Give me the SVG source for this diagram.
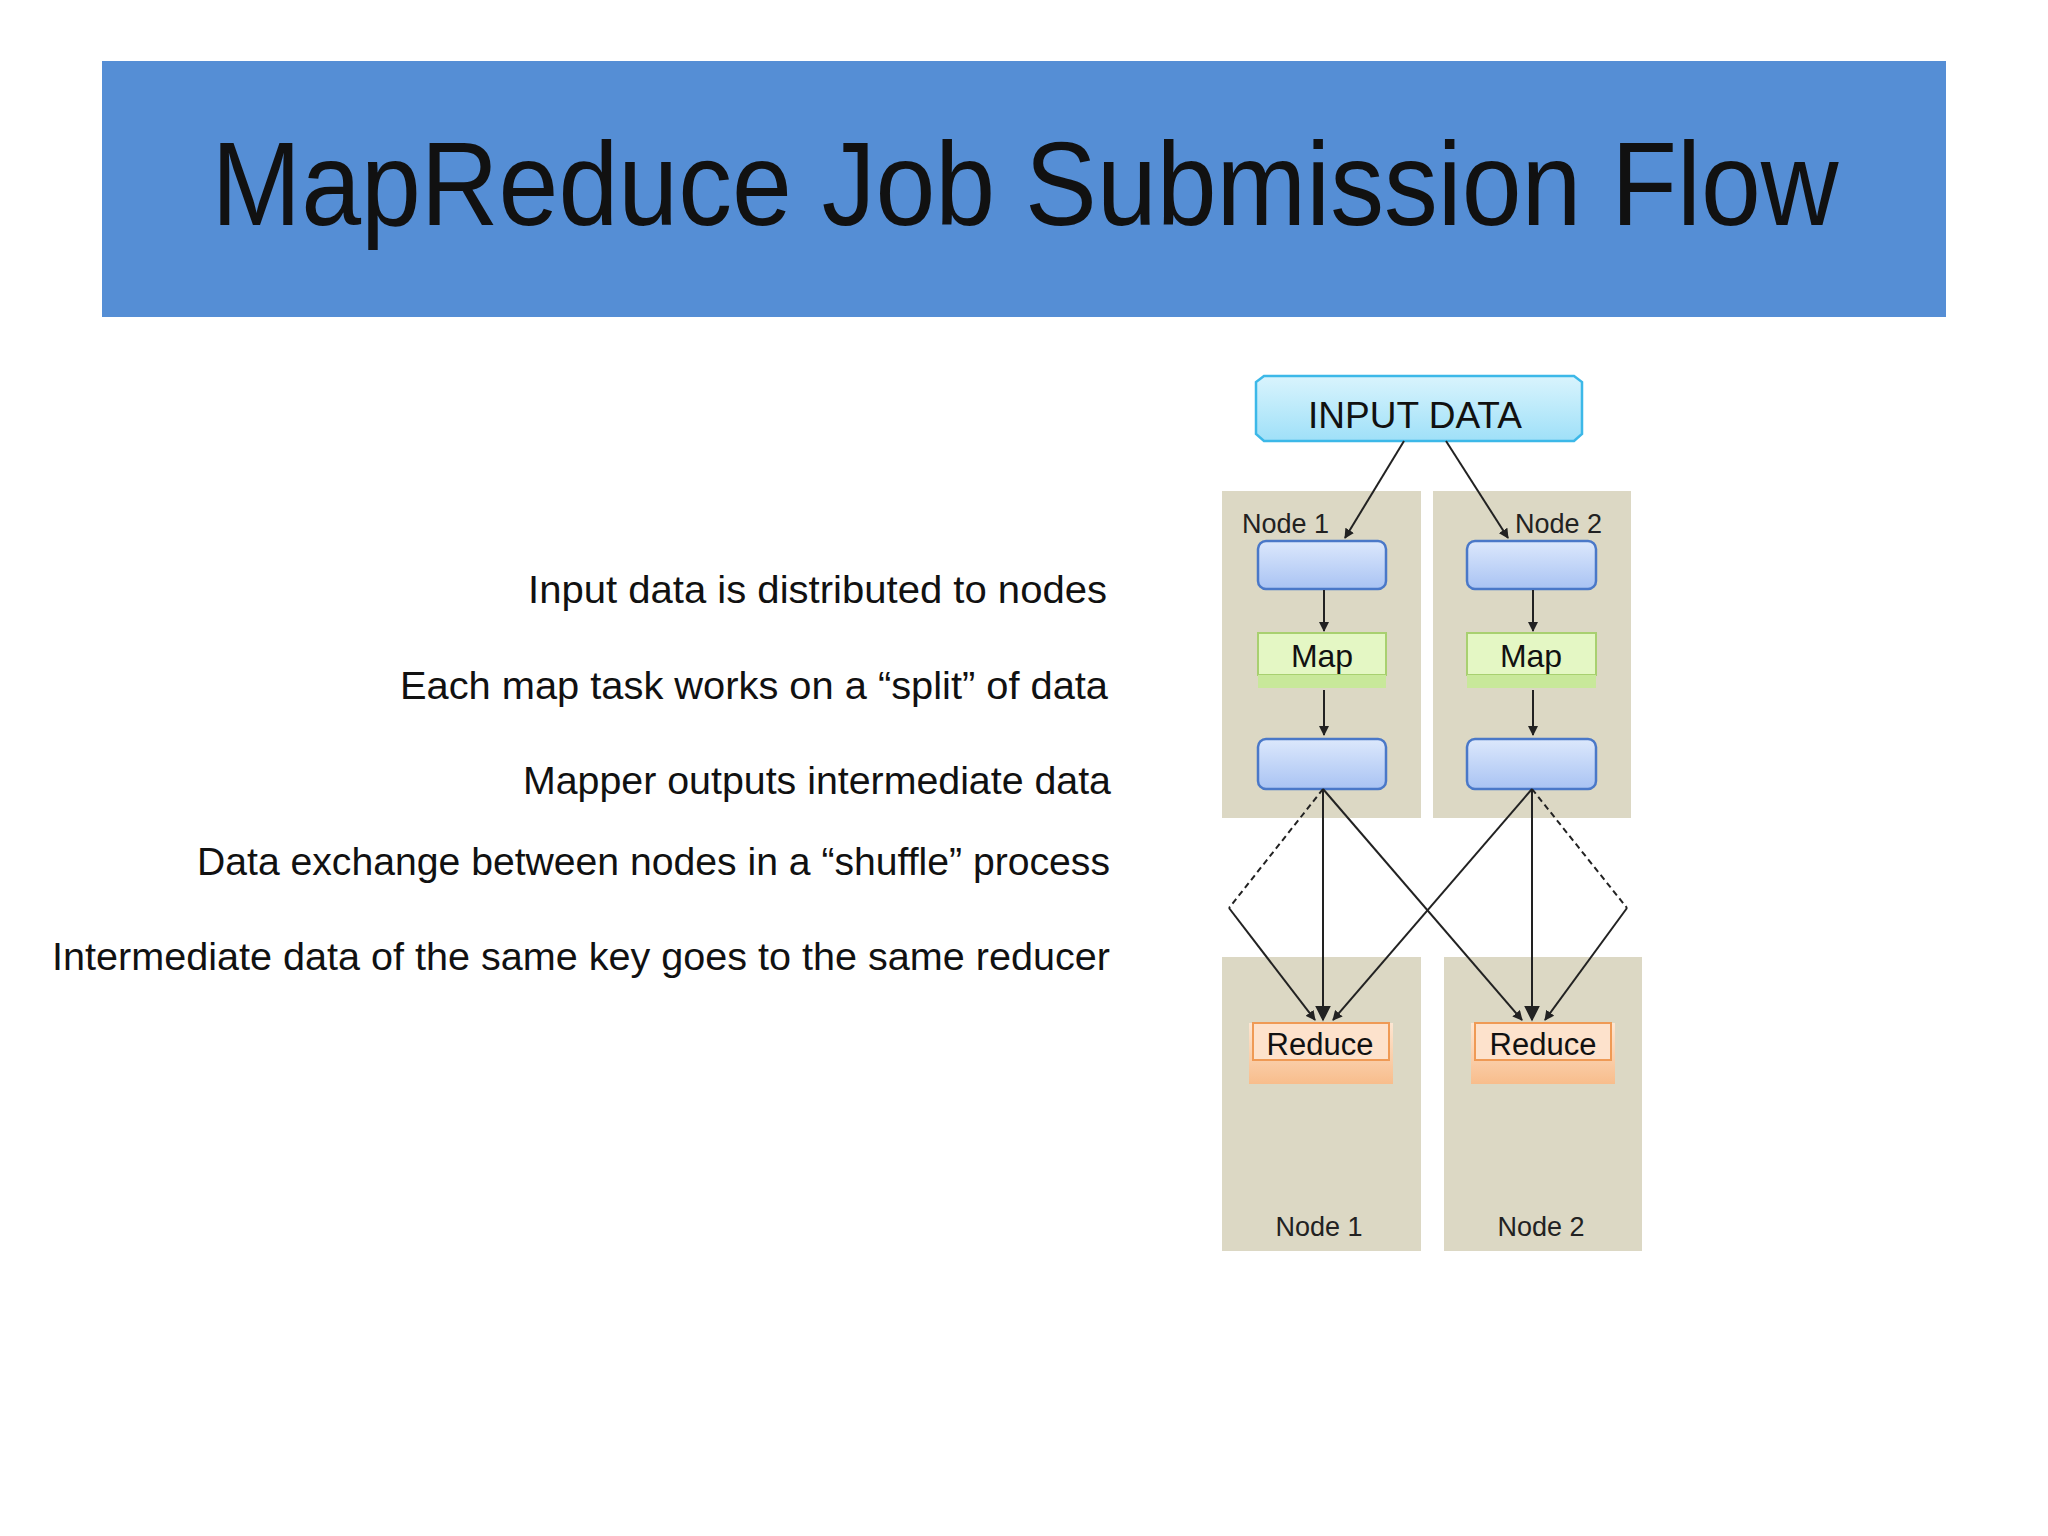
<svg xmlns="http://www.w3.org/2000/svg" width="2048" height="1536" viewBox="0 0 2048 1536">
<defs>
<style>
.t{font-family:"Liberation Sans",Arial,sans-serif;fill:#111}
.l{font-size:38px;text-anchor:end}
.n{font-size:27px;fill:#222}
.panel{fill:#dcd8c4}
.blue{fill:url(#gb);stroke:#4a78c8;stroke-width:2.5}
.map{fill:#e4f7c4;stroke:#a8d070;stroke-width:2}
.c{stroke:#222;stroke-width:2;fill:none}
.d{stroke:#222;stroke-width:2;fill:none;stroke-dasharray:6 4}
</style>
<linearGradient id="gb" x1="0" y1="0" x2="0" y2="1"><stop offset="0" stop-color="#dce8fc"/><stop offset="1" stop-color="#a9c3f3"/></linearGradient>
<linearGradient id="gi" x1="0" y1="0" x2="0" y2="1"><stop offset="0" stop-color="#d9f4fd"/><stop offset="1" stop-color="#9fe0f8"/></linearGradient>
<linearGradient id="gr" x1="0" y1="0" x2="0" y2="1"><stop offset="0" stop-color="#fde6d2"/><stop offset="1" stop-color="#f8bd8c"/></linearGradient>
<marker id="a" viewBox="0 0 10 10" refX="9" refY="5" markerWidth="10" markerHeight="10" orient="auto" markerUnits="userSpaceOnUse"><path d="M0,0L10,5L0,10z" fill="#222"/></marker>
<marker id="A" viewBox="0 0 10 10" refX="9" refY="5" markerWidth="16" markerHeight="16" orient="auto" markerUnits="userSpaceOnUse"><path d="M0,0L10,5L0,10z" fill="#222"/></marker>
</defs>
<rect width="2048" height="1536" fill="#fff"/>
<g id="title"><rect x="102" y="61" width="1844" height="256" fill="#558ed5"/>
<text class="t" x="1025" y="225" font-size="118" text-anchor="middle" textLength="1627" lengthAdjust="spacingAndGlyphs">MapReduce Job Submission Flow</text></g>
<g id="bullets">
<text class="t l" x="1107" y="603" textLength="579" lengthAdjust="spacingAndGlyphs">Input data is distributed to nodes</text>
<text class="t l" x="1108" y="699" textLength="708" lengthAdjust="spacingAndGlyphs">Each map task works on a “split” of data</text>
<text class="t l" x="1111" y="794" textLength="588" lengthAdjust="spacingAndGlyphs">Mapper outputs intermediate data</text>
<text class="t l" x="1110" y="875" textLength="913" lengthAdjust="spacingAndGlyphs">Data exchange between nodes in a “shuffle” process</text>
<text class="t l" x="1110" y="970" textLength="1058" lengthAdjust="spacingAndGlyphs">Intermediate data of the same key goes to the same reducer</text>
</g>
<g id="panels">
<rect class="panel" x="1222" y="491" width="199" height="327"/>
<rect class="panel" x="1433" y="491" width="198" height="327"/>
<rect class="panel" x="1222" y="957" width="199" height="294"/>
<rect class="panel" x="1444" y="957" width="198" height="294"/>
<text class="t n" x="1242" y="533">Node 1</text>
<text class="t n" x="1515" y="533">Node 2</text>
<text class="t n" x="1319" y="1236" text-anchor="middle">Node 1</text>
<text class="t n" x="1541" y="1236" text-anchor="middle">Node 2</text>
</g>
<g id="input"><path d="M1264,376H1574l8,6V434l-8,7H1264l-8,-7V382z" fill="url(#gi)" stroke="#3cb8e8" stroke-width="2.5"/>
<text class="t" x="1415" y="428" font-size="37" text-anchor="middle">INPUT DATA</text></g>
<g id="node1">
<rect class="blue" x="1258" y="541" width="128" height="48" rx="8"/>
<rect class="map" x="1258" y="633" width="128" height="42"/><rect x="1258" y="675" width="128" height="13" fill="#c8e89a"/>
<text class="t" x="1322" y="667" font-size="32" text-anchor="middle">Map</text>
<rect class="blue" x="1258" y="739" width="128" height="50" rx="8"/>
<rect x="1249" y="1023" width="144" height="61" fill="url(#gr)"/>
<rect x="1253" y="1023" width="136" height="37" fill="#fde2cc" stroke="#ef9a55" stroke-width="2"/>
<text class="t" x="1320" y="1055" font-size="31" text-anchor="middle">Reduce</text>
</g>
<g id="node2">
<rect class="blue" x="1467" y="541" width="129" height="48" rx="8"/>
<rect class="map" x="1467" y="633" width="129" height="42"/><rect x="1467" y="675" width="129" height="13" fill="#c8e89a"/>
<text class="t" x="1531" y="667" font-size="32" text-anchor="middle">Map</text>
<rect class="blue" x="1467" y="739" width="129" height="50" rx="8"/>
<rect x="1471" y="1023" width="144" height="61" fill="url(#gr)"/>
<rect x="1475" y="1023" width="136" height="37" fill="#fde2cc" stroke="#ef9a55" stroke-width="2"/>
<text class="t" x="1543" y="1055" font-size="31" text-anchor="middle">Reduce</text>
</g>
<g id="connectors">
<line class="c" x1="1404" y1="441" x2="1345" y2="538" marker-end="url(#a)"/>
<line class="c" x1="1446" y1="441" x2="1508" y2="538" marker-end="url(#a)"/>
<line class="c" x1="1324" y1="590" x2="1324" y2="631" marker-end="url(#a)"/>
<line class="c" x1="1533" y1="590" x2="1533" y2="631" marker-end="url(#a)"/>
<line class="c" x1="1324" y1="690" x2="1324" y2="735" marker-end="url(#a)"/>
<line class="c" x1="1533" y1="690" x2="1533" y2="735" marker-end="url(#a)"/>
<line class="c" x1="1323" y1="789" x2="1323" y2="1020" stroke-width="4" marker-end="url(#A)"/>
<line class="c" x1="1532" y1="789" x2="1532" y2="1020" stroke-width="4" marker-end="url(#A)"/>
<line class="d" x1="1323" y1="789" x2="1229" y2="908"/>
<line class="c" x1="1229" y1="908" x2="1315" y2="1020" marker-end="url(#a)"/>
<line class="c" x1="1323" y1="789" x2="1522" y2="1020" marker-end="url(#a)"/>
<line class="c" x1="1532" y1="789" x2="1333" y2="1020" marker-end="url(#a)"/>
<line class="d" x1="1532" y1="789" x2="1627" y2="908"/>
<line class="c" x1="1627" y1="908" x2="1545" y2="1020" marker-end="url(#a)"/>
</g>
</svg>
